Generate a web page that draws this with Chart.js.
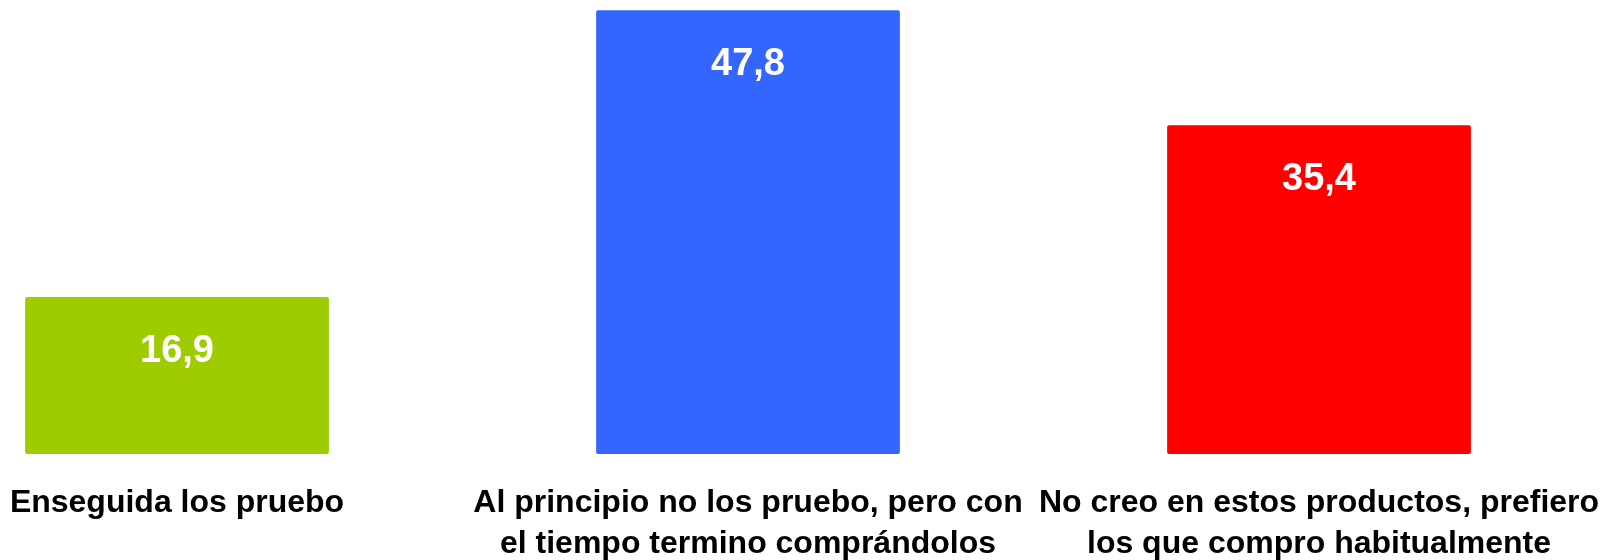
<!DOCTYPE html>
<html>
<head>
<meta charset="utf-8">
<script src="https://cdn.jsdelivr.net/npm/chart.js@4"></script>
<style>
  body { margin: 0; background: #fff; }
  #wrap { width: 1614px; height: 560px; }
</style>
</head>
<body>
<div id="wrap"><canvas id="myChart"></canvas></div>
<script>
// categorias (cada una partida en lineas) y porcentajes
const categories = [
    ['Enseguida los pruebo'],
    ['Al principio no los pruebo, pero con', 'el tiempo termino comprándolos'],
    ['No creo en estos productos, prefiero', 'los que compro habitualmente']
];
const values = [16.9, 47.8, 35.4];
const barColors = ['#9ECC00', '#3366FF', '#FF0000'];

const ctx = document.getElementById('myChart').getContext('2d');

// numeros blancos dentro de cada barra, con coma decimal
const valueLabels = {
    id: 'valueLabels',
    afterDatasetsDraw(chart) {
        const c = chart.ctx;
        const meta = chart.getDatasetMeta(0);
        c.save();
        c.fillStyle = '#fff';
        c.font = 'bold 38px "Liberation Sans", Arial, sans-serif';
        c.textAlign = 'center';
        c.textBaseline = 'middle';
        meta.data.forEach((bar, i) => {
            c.fillText(values[i].toFixed(1).replace('.', ','), bar.x, bar.y + 54);
        });
        c.restore();
    }
};

const myChart = new Chart(ctx, {
    type: 'bar',
    data: {
        datasets: [{
            data: values.map((v, i) => ({ x: i, y: v })),
            backgroundColor: barColors,
            borderRadius: 2,
            borderSkipped: false,
            categoryPercentage: 1,
            barPercentage: 0.532
        }]
    },
    options: {
        responsive: true,
        maintainAspectRatio: false,
        animation: false,
        layout: { padding: 0 },
        plugins: {
            legend: { display: false },
            tooltip: { enabled: false }
        },
        scales: {
            x: {
                type: 'linear',
                offset: false,
                min: -0.31,
                max: 2.5166,
                grid: { display: false, drawTicks: false },
                border: { display: false },
                afterBuildTicks: (scale) => {
                    scale.ticks = categories.map((c, i) => ({ value: i }));
                },
                // sin margen lateral extra y altura fija para el eje
                afterFit: (scale) => {
                    scale.paddingLeft = 0;
                    scale.paddingRight = 0;
                    scale.height = 106;
                },
                ticks: {
                    autoSkip: false,
                    maxRotation: 0,
                    padding: 29,
                    color: '#000',
                    font: { family: '"Liberation Sans", Arial, sans-serif', size: 32, weight: 'bold', lineHeight: 1.28 },
                    callback: (value) => categories[value]
                }
            },
            y: {
                display: false,
                min: 0,
                max: 48.9
            }
        }
    },
    plugins: [valueLabels]
});
</script>
</body>
</html>
